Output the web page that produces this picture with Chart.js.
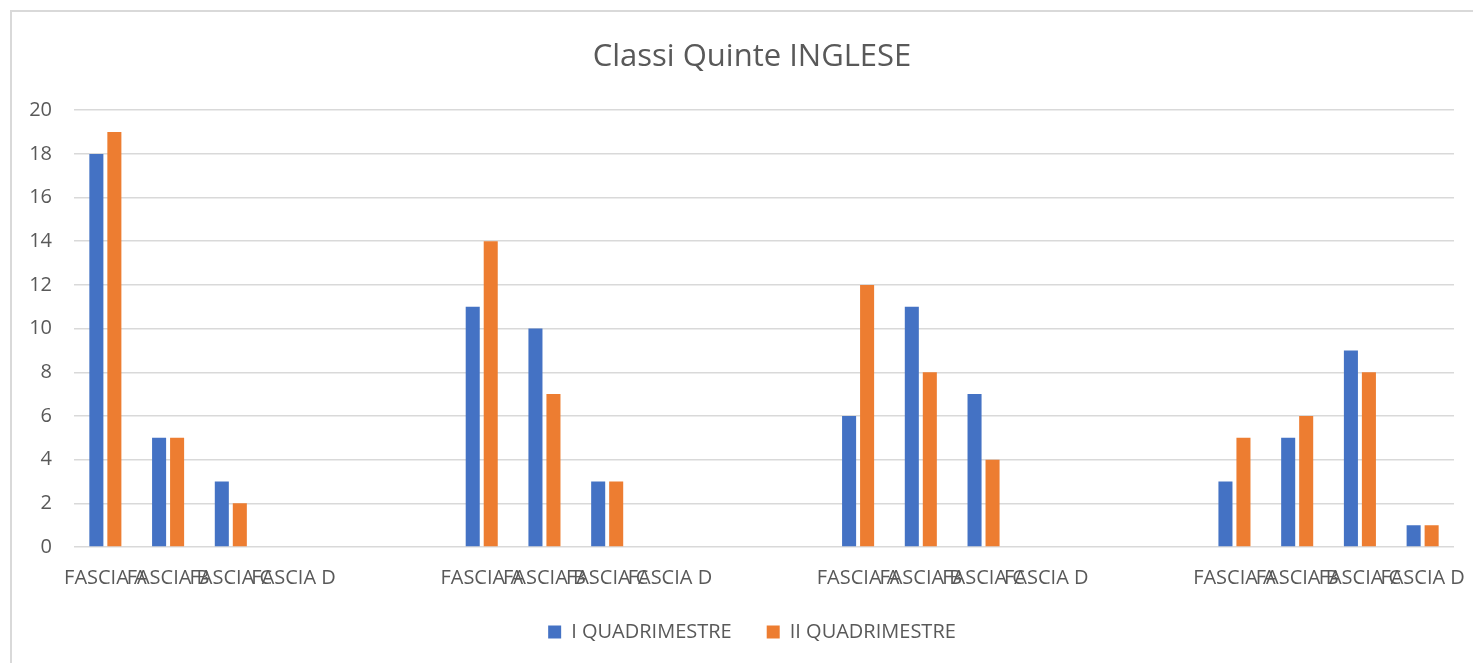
<!DOCTYPE html>
<html>
<head>
<meta charset="utf-8">
<script src="https://cdn.jsdelivr.net/npm/chart.js@4"></script>
<style>
  html, body { margin: 0; padding: 0; background: #fff; overflow: hidden; }
  #frame { position: absolute; left: 10px; top: 10px; width: 1500px; height: 700px; border: 2px solid #d9d9d9; box-sizing: border-box; }
  #wrap { position: absolute; left: 0; top: 0; width: 1473px; height: 663px; }
</style>
</head>
<body>
<div id="frame"></div>
<div id="wrap"><canvas id="myChart"></canvas></div>
<script>
// 4 blocks of FASCIA A-D, two empty slots between blocks
const categories = [
  'FASCIA A', 'FASCIA B', 'FASCIA C', 'FASCIA D', '', '',
  'FASCIA A', 'FASCIA B', 'FASCIA C', 'FASCIA D', '', '',
  'FASCIA A', 'FASCIA B', 'FASCIA C', 'FASCIA D', '', '',
  'FASCIA A', 'FASCIA B', 'FASCIA C', 'FASCIA D'
];
const primoQuadrimestre = [
  18, 5, 3, 0, null, null,
  11, 10, 3, 0, null, null,
  6, 11, 7, 0, null, null,
  3, 5, 9, 1
];
const secondoQuadrimestre = [
  19, 5, 2, 0, null, null,
  14, 7, 3, 0, null, null,
  12, 8, 4, 0, null, null,
  5, 6, 8, 1
];
const seriesNames = ['I QUADRIMESTRE', 'II QUADRIMESTRE'];

const textColor = '#595959';
const ctx = document.getElementById('myChart');

// y labels are mirrored (so they are not clipped), shift them back left of the plot
const m = document.createElement('canvas').getContext('2d');
m.font = '20px "Open Sans"';
const widestY = m.measureText('20').width;

new Chart(ctx, {
  type: 'bar',
  data: {
    labels: categories,
    datasets: [{
      label: seriesNames[0],
      data: primoQuadrimestre,
      backgroundColor: '#4472C4'
    }, {
      label: seriesNames[1],
      data: secondoQuadrimestre,
      backgroundColor: '#ED7D31'
    }]
  },
  options: {
    responsive: true,
    maintainAspectRatio: false,
    animation: false,
    categoryPercentage: 0.574,
    barPercentage: 0.78,
    layout: {
      padding: { left: 50, right: 19, top: 0, bottom: 16 }
    },
    scales: {
      x: {
        afterFit: function (scale) {
          scale.height = 40;
          scale.paddingLeft = 0;
          scale.paddingRight = 0;
        },
        grid: { display: false, drawTicks: false },
        border: { display: false },
        ticks: {
          autoSkip: false,
          maxRotation: 0,
          minRotation: 0,
          padding: 19,
          color: textColor,
          font: { family: 'Open Sans', size: 20 }
        }
      },
      y: {
        min: 0,
        max: 20,
        afterFit: function (scale) {
          scale.width = 24;
          scale.paddingTop = 0;
          scale.paddingBottom = 0;
        },
        grid: { color: '#d9d9d9', lineWidth: 1.5, drawTicks: false },
        border: { display: false },
        ticks: {
          stepSize: 2,
          mirror: true,
          crossAlign: 'far',
          padding: -22 - widestY,
          color: textColor,
          font: { family: 'Open Sans', size: 20 }
        }
      }
    },
    plugins: {
      title: {
        display: true,
        text: 'Classi Quinte INGLESE',
        color: textColor,
        font: { family: 'Open Sans', size: 31, weight: 'normal' },
        padding: { top: 39, bottom: 34 }
      },
      legend: {
        display: true,
        position: 'bottom',
        maxHeight: 60,
        labels: {
          boxWidth: 13,
          boxHeight: 13,
          padding: 35,
          color: textColor,
          font: { family: 'Open Sans', size: 20 }
        }
      },
      tooltip: { enabled: false }
    }
  }
});
</script>
</body>
</html>
